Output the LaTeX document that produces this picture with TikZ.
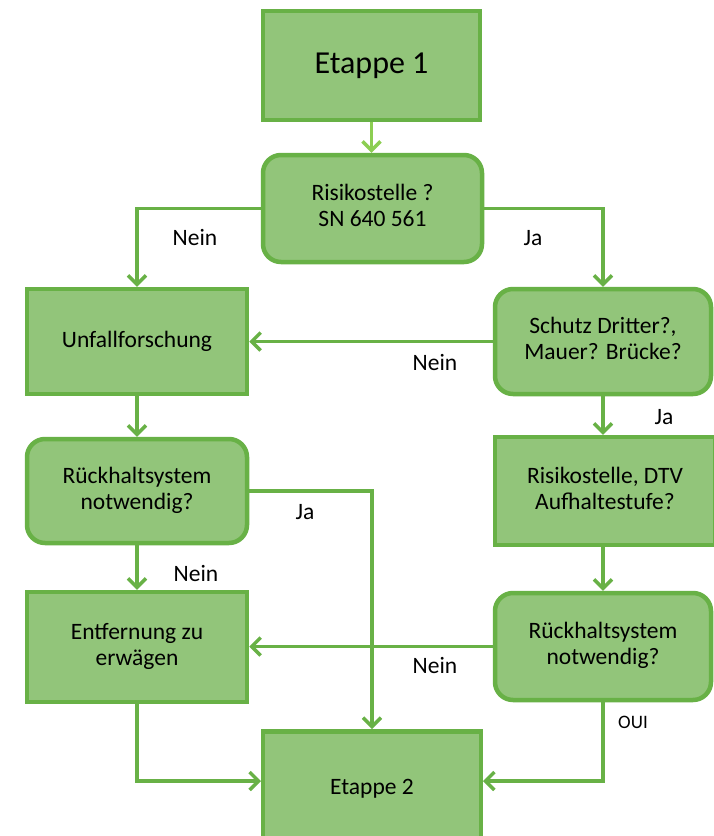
\documentclass[tikz,border=0pt]{standalone}
\usepackage{fontspec}
\setmainfont{Carlito}
\usetikzlibrary{arrows.meta}
\definecolor{boxfill}{RGB}{146,197,122}
\definecolor{boxline}{RGB}{104,177,70}
\definecolor{toparrow}{RGB}{140,206,82}
\newcommand\twolines[2]{\raisebox{-3pt}{\begin{tabular}{@{}c@{}}#1\\#2\end{tabular}}}
\tikzset{
  box/.style={draw=boxline, fill=boxfill, line width=4.5pt, align=center,
    font=\fontsize{23.5pt}{26pt}\selectfont, inner sep=0pt},
  sqbox/.style={box},
  rbox/.style={box, rounded corners=18pt},
  arr/.style={draw=boxline, line width=3.5pt,
    -{Straight Barb[length=9pt,width=18pt]}},
  lbl/.style={font=\fontsize{23.5pt}{26pt}\selectfont, inner sep=0pt},
}
\begin{document}
\begin{tikzpicture}[x=1pt,y=-1pt]
\useasboundingbox (0,0) rectangle (713,836);
% boxes
\node[sqbox, minimum width=217pt, minimum height=109pt, font=\fontsize{32pt}{36pt}\selectfont] (e1) at (371.5,65.5) {\raisebox{-2pt}{Etappe 1}};
\node[rbox, minimum width=219pt, minimum height=107pt] (risk) at (372.5,208.5) {\twolines{Risikostelle ?}{SN 640 561}};
\node[sqbox, minimum width=220pt, minimum height=105pt] (unf) at (137,341.5) {\raisebox{-4pt}{Unfallforschung}};
\node[rbox, minimum width=216pt, minimum height=105pt] (schutz) at (603,341.5) {\twolines{Schutz Dritter?,}{Mauer? Brücke?}};
\node[rbox, minimum width=220pt, minimum height=104pt] (rl) at (137,491) {\twolines{Rückhaltsystem}{notwendig?}};
\node[sqbox, minimum width=220pt, minimum height=108pt] (dtv) at (605,491) {\twolines{Risikostelle, DTV}{Aufhaltestufe?}};
\node[sqbox, minimum width=220pt, minimum height=110pt] (ent) at (137,647) {\twolines{Entfernung zu}{erwägen}};
\node[rbox, minimum width=216pt, minimum height=107pt] (rr) at (603,646.5) {\twolines{Rückhaltsystem}{notwendig?}};
\node[sqbox, minimum width=218pt, minimum height=130pt, anchor=north] (e2) at (372,729) {\raisebox{2pt}[0pt][0pt]{Etappe 2}};
% connectors
\draw[arr, draw=toparrow] (e1.south) -- (e1.south |- risk.north);
\draw[arr] (risk.west) -| (unf.north);
\draw[arr] (risk.east) -| (schutz.north);
\draw[arr] (schutz.west) -- (unf.east);
\draw[arr] (schutz.south) -- (schutz.south |- dtv.north);
\draw[arr] (unf.south) -- (rl.north);
\draw[arr] (rl.east) -| (372,729);
\draw[arr] (rl.south) -- (ent.north);
\draw[arr] (dtv.south -| schutz.south) -- (schutz.south |- rr.north);
\draw[arr] (rr.west) -- (rr.west -| ent.east);
\coordinate (e2l) at (261,781);
\coordinate (e2r) at (483,781);
\draw[arr] (ent.south) |- (e2l);
\draw[arr] (rr.south) |- (e2r);
% labels
\node[lbl] (l1) at (195,237) {Nein};
\node[lbl] (l2) at (533,238) {Ja};
\node[lbl] (l3) at (435,362) {Nein};
\node[lbl] (l4) at (664,417) {Ja};
\node[lbl] (l5) at (305,512) {Ja};
\node[lbl] (l6) at (196,573) {Nein};
\node[lbl] (l7) at (435,665) {Nein};
\node[lbl, font=\fontsize{19pt}{22pt}\selectfont] (l8) at (633,722) {OUI};
\end{tikzpicture}
\end{document}
